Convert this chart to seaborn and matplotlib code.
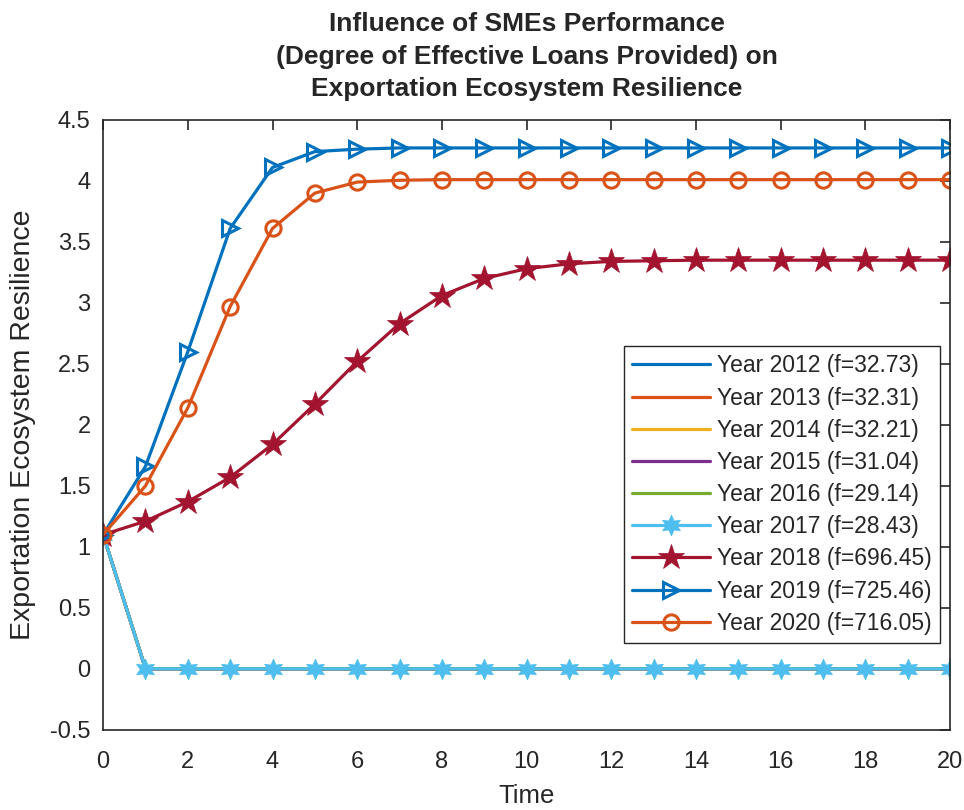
import numpy as np
import pandas as pd
import matplotlib
matplotlib.use("Agg")
import matplotlib.pyplot as plt
import seaborn as sns
from matplotlib.ticker import FuncFormatter

# data
time = list(range(0, 21))
labels = ["Year 2012 (f=32.73)", "Year 2013 (f=32.31)", "Year 2014 (f=32.21)",
          "Year 2015 (f=31.04)", "Year 2016 (f=29.14)", "Year 2017 (f=28.43)",
          "Year 2018 (f=696.45)", "Year 2019 (f=725.46)", "Year 2020 (f=716.05)"]
low_years = [1.1] + [0.0] * 20   # 2012-2017 all collapse to zero
y2018 = [1.1, 1.21, 1.37, 1.57, 1.84, 2.17, 2.52, 2.83, 3.06, 3.20, 3.28,
         3.32, 3.34, 3.345, 3.35, 3.35, 3.35, 3.35, 3.35, 3.35, 3.35]
y2019 = [1.1, 1.66, 2.60, 3.61, 4.11, 4.24, 4.26, 4.27, 4.27, 4.27, 4.27,
         4.27, 4.27, 4.27, 4.27, 4.27, 4.27, 4.27, 4.27, 4.27, 4.27]
y2020 = [1.1, 1.50, 2.14, 2.97, 3.61, 3.90, 3.99, 4.005, 4.01, 4.01, 4.01,
         4.01, 4.01, 4.01, 4.01, 4.01, 4.01, 4.01, 4.01, 4.01, 4.01]
series = [low_years] * 6 + [y2018, y2019, y2020]

colors = ["#0072BD", "#D95319", "#EDB120", "#7E2F8E", "#77AC30",
          "#4DBEEE", "#A2142F", "#0072BD", "#D95319"]
markers = [None, None, None, None, None, (6, 1, 0), "*", ">", "o"]

sns.set_style("white")
plt.rcParams["font.family"] = ["Liberation Sans", "DejaVu Sans"]
plt.rcParams["axes.unicode_minus"] = False

fig = plt.figure(figsize=(9.64, 8.10), dpi=100)
ax = fig.add_axes([0.107, 0.099, 0.8785, 0.753])

for lab, vals, col, mk in zip(labels, series, colors, markers):
    df = pd.DataFrame({"Time": time, "val": vals})
    kw = dict(color=col, linewidth=2.3, label=lab)
    if mk is not None:
        kw["marker"] = mk
        if mk == ">":
            kw.update(markersize=12, markerfacecolor="none", markeredgecolor=col, markeredgewidth=2.2)
        elif mk == "o":
            kw.update(markersize=11, markerfacecolor="none", markeredgecolor=col, markeredgewidth=2.2)
        elif mk == "*":
            kw.update(markersize=19, markeredgecolor=col, markeredgewidth=0.5)
        else:
            kw.update(markersize=15, markeredgecolor=col, markeredgewidth=0.5)
    sns.lineplot(data=df, x="Time", y="val", ax=ax, **kw)

ax.set_xlim(0, 20)
ax.set_ylim(-0.5, 4.5)
ax.set_xticks(np.arange(0, 21, 2))
ax.set_yticks(np.arange(-0.5, 4.51, 0.5))
ax.yaxis.set_major_formatter(FuncFormatter(lambda v, p: "%g" % round(v, 2)))
ax.tick_params(direction="in", length=7, width=1.2, top=True, right=True,
               labelsize=17, colors="#262626")
ax.tick_params(axis="x", pad=15)
ax.tick_params(axis="y", pad=9)
for s in ax.spines.values():
    s.set_visible(True)
    s.set_color("#262626")
    s.set_linewidth(1.2)

ax.set_xlabel("Time", fontsize=18.5, color="#262626", labelpad=8)
ax.set_ylabel("Exportation Ecosystem Resilience", fontsize=20.5, color="#262626", labelpad=10)
ax.set_title("Influence of SMEs Performance\n(Degree of Effective Loans Provided) on\nExportation Ecosystem Resilience",
             fontsize=19, fontweight="bold", pad=17, linespacing=1.45)

leg = ax.legend(loc="lower right", bbox_to_anchor=(0.988, 0.1426), fontsize=16.5,
                frameon=True, fancybox=False, edgecolor="#262626", framealpha=1,
                handlelength=3.4, labelspacing=0.4, borderpad=0.35, handletextpad=0.3,
                borderaxespad=0)
leg.get_frame().set_linewidth(1.0)

fig.savefig("out.png", dpi=100)
